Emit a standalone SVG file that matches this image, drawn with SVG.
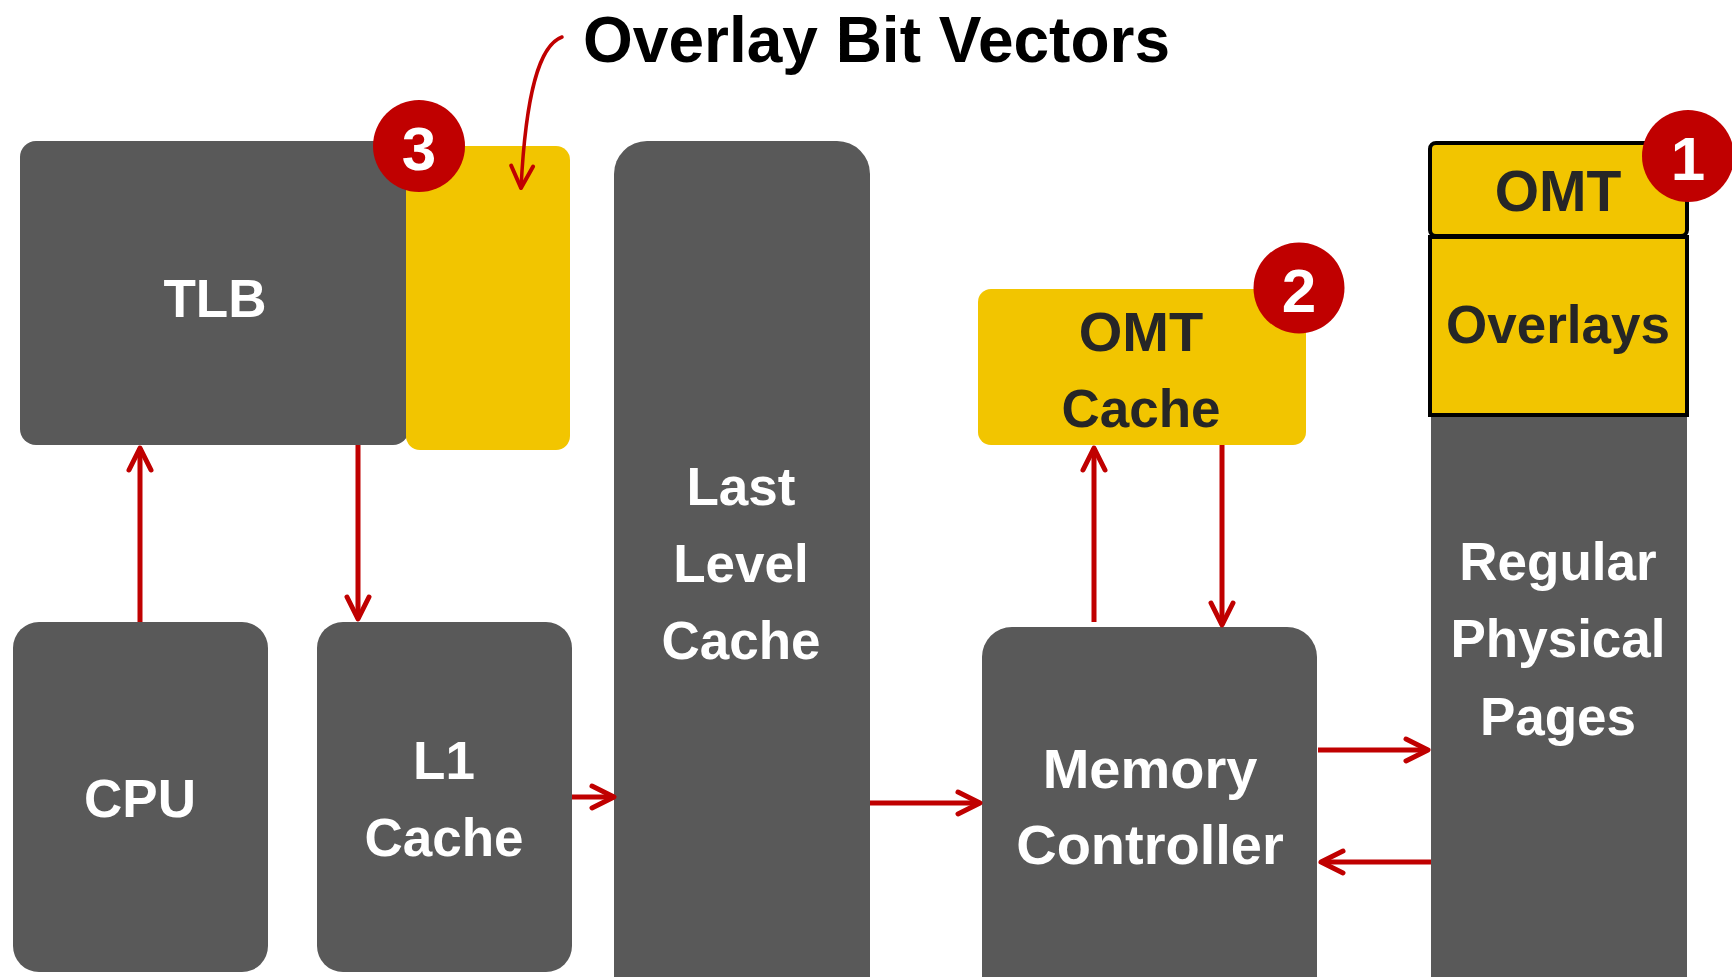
<svg xmlns="http://www.w3.org/2000/svg" width="1732" height="977" viewBox="0 0 1732 977">
  <style>
    .blk { fill: #595959; }
    .ylw { fill: #F2C500; }
    .lbl { font-family: "Liberation Sans", Arial, sans-serif; font-weight: bold; font-size: 53px; text-anchor: middle; fill: #FFFFFF; }
    .dark { fill: #262626; }
    .badge { fill: #C00000; }
    .num { font-family: "Liberation Sans", Arial, sans-serif; font-weight: bold; font-size: 62px; text-anchor: middle; fill: #FFFFFF; }
    .title { font-family: "Liberation Sans", Arial, sans-serif; font-weight: bold; font-size: 64px; fill: #000000; }
    .wire { fill: none; stroke: #C00000; stroke-width: 5; }
    .wire-thin { fill: none; stroke: #C00000; stroke-width: 3.5; stroke-linecap: round; }
    .framed { fill: #F2C500; stroke: #000000; stroke-width: 4; }
  </style>
  <defs>
    <marker id="head" viewBox="-30 -16 36 32" refX="0" refY="0" markerWidth="36" markerHeight="32" markerUnits="userSpaceOnUse" orient="auto" overflow="visible">
      <path d="M -22 -11 L 0 0 L -22 11" fill="none" stroke="#C00000" stroke-width="5" stroke-linecap="round" stroke-linejoin="round"/>
    </marker>
    <marker id="head-thin" viewBox="-30 -16 36 32" refX="0" refY="0" markerWidth="36" markerHeight="32" markerUnits="userSpaceOnUse" orient="auto" overflow="visible">
      <path d="M -22 -11 L 0 0 L -22 11" fill="none" stroke="#C00000" stroke-width="4" stroke-linecap="round" stroke-linejoin="round"/>
    </marker>
  </defs>

  <rect width="1732" height="977" fill="#FFFFFF"/>

  <!-- TLB with its overlay bit vector column -->
  <g id="tlb">
    <rect class="blk" x="20" y="141" width="389" height="304" rx="16"/>
    <text class="lbl" x="215" y="317">TLB</text>
  </g>
  <g id="overlay-bits">
    <rect class="ylw" x="406" y="146" width="164" height="304" rx="14"/>
  </g>

  <!-- Core-side blocks -->
  <g id="cpu">
    <rect class="blk" x="13" y="622" width="255" height="350" rx="26"/>
    <text class="lbl" x="140" y="817">CPU</text>
  </g>
  <g id="l1">
    <rect class="blk" x="317" y="622" width="255" height="350" rx="26"/>
    <text class="lbl" x="444" y="779">L1</text>
    <text class="lbl" x="444" y="856">Cache</text>
  </g>
  <g id="llc">
    <rect class="blk" x="614" y="141" width="256" height="880" rx="33"/>
    <text class="lbl" x="741" y="505">Last</text>
    <text class="lbl" x="741" y="582">Level</text>
    <text class="lbl" x="741" y="659">Cache</text>
  </g>

  <!-- Memory side -->
  <g id="omt-cache">
    <rect class="ylw" x="978" y="289" width="328" height="156" rx="13"/>
    <text class="lbl dark" x="1141" y="351" style="font-size:56px">OMT</text>
    <text class="lbl dark" x="1141" y="427">Cache</text>
  </g>
  <g id="mem-ctrl">
    <rect class="blk" x="982" y="627" width="335" height="400" rx="30"/>
    <text class="lbl" x="1150" y="788" style="font-size:56px">Memory</text>
    <text class="lbl" x="1150" y="864" style="font-size:56px">Controller</text>
  </g>

  <!-- Main memory column -->
  <g id="main-memory">
    <rect class="blk" x="1431" y="415" width="256" height="580"/>
    <text class="lbl" x="1558" y="580">Regular</text>
    <text class="lbl" x="1558" y="657">Physical</text>
    <text class="lbl" x="1558" y="735">Pages</text>
  </g>
  <g id="overlays">
    <rect class="framed" x="1430" y="237" width="257" height="178"/>
    <text class="lbl dark" x="1558" y="343">Overlays</text>
  </g>
  <g id="omt">
    <rect class="framed" x="1430" y="143" width="257" height="93" rx="6"/>
    <text class="lbl dark" x="1558" y="211" style="font-size:57px">OMT</text>
  </g>

  <!-- Connectors -->
  <g id="connectors">
    <line class="wire" x1="140" y1="622" x2="140" y2="448" marker-end="url(#head)"/>
    <line class="wire" x1="358" y1="445" x2="358" y2="619" marker-end="url(#head)"/>
    <line class="wire" x1="572" y1="797" x2="614" y2="797" marker-end="url(#head)"/>
    <line class="wire" x1="870" y1="803" x2="980" y2="803" marker-end="url(#head)"/>
    <line class="wire" x1="1094" y1="622" x2="1094" y2="448" marker-end="url(#head)"/>
    <line class="wire" x1="1222" y1="445" x2="1222" y2="625" marker-end="url(#head)"/>
    <line class="wire" x1="1318" y1="750" x2="1428" y2="750" marker-end="url(#head)"/>
    <line class="wire" x1="1431" y1="862" x2="1321" y2="862" marker-end="url(#head)"/>
    <path class="wire-thin" d="M 562 37 C 540 45, 526 90, 521 188" marker-end="url(#head-thin)"/>
  </g>

  <!-- Callout -->
  <g id="callout">
    <text class="title" x="583" y="62">Overlay Bit Vectors</text>
  </g>

  <!-- Numbered markers -->
  <g id="badge-1">
    <circle class="badge" cx="1688" cy="156" r="46"/>
    <text class="num" x="1688" y="180">1</text>
  </g>
  <g id="badge-2">
    <circle class="badge" cx="1299" cy="288" r="45.5"/>
    <text class="num" x="1299" y="312">2</text>
  </g>
  <g id="badge-3">
    <circle class="badge" cx="419" cy="146" r="46"/>
    <text class="num" x="419" y="170">3</text>
  </g>
</svg>
